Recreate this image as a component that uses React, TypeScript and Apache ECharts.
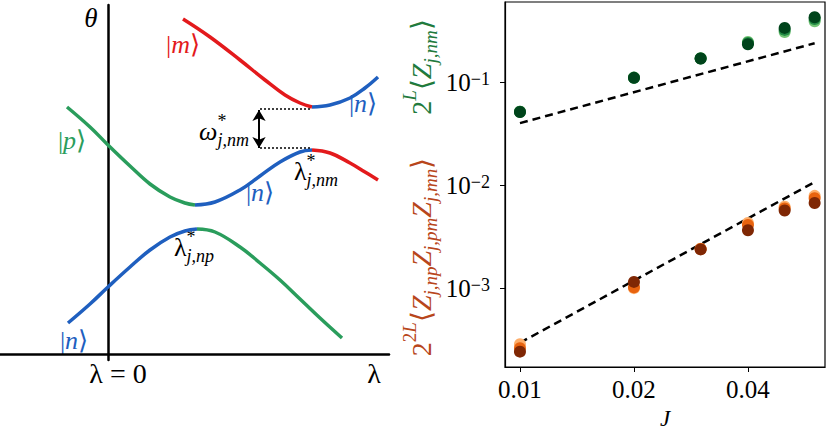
import React, { useEffect, useRef } from "react";
import * as echarts from "echarts";

// ---------- Right panel data ----------
const J = [0.01, 0.02, 0.03, 0.04, 0.05, 0.06];
const zNmLight = [0.052, 0.112, 0.172, 0.248, 0.31, 0.395];
const zNmMid = [0.052, 0.111, 0.171, 0.243, 0.325, 0.415];
const zNmDark = [0.0516, 0.111, 0.171, 0.236, 0.34, 0.431];
const zNmFit: [number, number][] = [[0.01, 0.0403], [0.06, 0.241]];
const triLight = [2.85e-4, 1.0e-3, 2.42e-3, 4.3e-3, 6.2e-3, 7.9e-3];
const triMid = [2.6e-4, 1.02e-3, 2.4e-3, 4.12e-3, 5.95e-3, 7.5e-3];
const triDark = [2.41e-4, 1.15e-3, 2.38e-3, 3.66e-3, 5.7e-3, 6.73e-3];
const triFit: [number, number][] = [[0.01, 2.94e-4], [0.06, 1.076e-2]];
const xTicks = [0.01, 0.02, 0.04];
const yTicks = [1e-3, 1e-2, 1e-1];

// ---------- Left panel (schematic, arbitrary units) ----------
const redTop: [number, number][] = [[75, 335], [102, 317], [132, 294], [157, 274], [177, 259], [192, 251], [204, 247]];
const blueTop: [number, number][] = [[204, 247], [222, 249], [242, 256], [257, 266], [270, 277]];
const greenMid: [number, number][] = [[-41, 247], [-18, 227], [0, 209], [22, 188], [42, 170], [62, 157], [77, 151], [87, 149]];
const blueMid: [number, number][] = [[87, 149], [107, 152], [132, 164], [152, 178], [172, 192], [192, 202], [204, 204]];
const redMid: [number, number][] = [[204, 204], [222, 201], [242, 191], [257, 182], [270, 174]];
const blueLow: [number, number][] = [[-40, 31], [-18, 50], [0, 67], [22, 87], [42, 104], [62, 117], [77, 123], [89, 125]];
const greenLow: [number, number][] = [[89, 125], [107, 122], [132, 107], [152, 91], [172, 74], [192, 55], [212, 36], [234, 16]];
const gapTop: [number, number][] = [[152, 245], [204, 245]];
const gapBottom: [number, number][] = [[152, 206], [204, 206]];
const gapArrow: [number, number][] = [[151, 244], [151, 206]];

const RED = "#e31a1c";
const BLUE = "#1f5fbf";
const GREEN = "#2a9d5c";
const FONT = "Liberation Serif";

let mctx: CanvasRenderingContext2D | null = null;
function measure(t: string, size: number, italic: boolean) {
  if (!mctx) mctx = document.createElement("canvas").getContext("2d");
  mctx!.font = `${italic ? "italic " : ""}${size}px "${FONT}"`;
  return mctx!.measureText(t).width;
}
type Atom = { t: string; it?: boolean; pos?: "sup" | "sub"; stack?: boolean };
function mathText(atoms: Atom[], cx: number, cy: number, F: number, color: string, rotation = 0) {
  const children: any[] = [];
  let x = 0;
  let lastStart = 0;
  atoms.forEach((a) => {
    const size = a.pos ? Math.round(F * 0.68) : F;
    const w = measure(a.t, size, !!a.it);
    const start = a.stack ? lastStart : x;
    const dy = a.pos === "sup" ? -0.4 * F : a.pos === "sub" ? 0.33 * F : 0;
    children.push({
      type: "text",
      x: start,
      y: dy,
      style: {
        text: a.t,
        fontSize: size,
        fontFamily: FONT,
        fontStyle: a.it ? "italic" : "normal",
        fill: color,
        align: "left",
        verticalAlign: "middle",
        textAlign: "left",
        textVerticalAlign: "middle",
      },
    });
    lastStart = start;
    x = Math.max(x, start + w);
  });
  const total = x;
  children.forEach((c) => (c.x -= total / 2));
  return { type: "group", x: cx, y: cy, rotation, children, silent: true };
}
const ket = (s: string): Atom[] => [{ t: "|" }, { t: s, it: true }, { t: "\u27E9" }];

export default function App() {
  const ref = useRef<HTMLDivElement>(null);
  useEffect(() => {
    document.body.style.margin = "0";
    const chart = echarts.init(ref.current!, undefined, { renderer: "svg" });
    const curve = (data: [number, number][], color: string) => ({
      type: "line",
      xAxisIndex: 0,
      yAxisIndex: 0,
      data,
      smooth: 0.4,
      showSymbol: false,
      symbol: "none",
      lineStyle: { color, width: 3.5, cap: "butt" },
      z: 3,
    });
    const dots = (vals: number[], color: string, z: number) => ({
      type: "scatter",
      xAxisIndex: 1,
      yAxisIndex: 1,
      data: J.map((j, i) => [j, vals[i]]),
      symbolSize: 12,
      itemStyle: { color, opacity: 1 },
      z,
    });
    const fit = (data: [number, number][]) => ({
      type: "line",
      xAxisIndex: 1,
      yAxisIndex: 1,
      data,
      symbol: "none",
      lineStyle: { color: "#000", width: 2.5, type: [8, 5] },
      z: 2,
    });
    const option: any = {
      animation: false,
      textStyle: { fontFamily: FONT },
      grid: [
        { left: 0, top: 5, width: 389, height: 355, outerBoundsMode: "none", containLabel: false },
        {
          left: 505, top: 2, width: 320, height: 365, show: true, borderColor: "#000", borderWidth: 1.2,
          outerBoundsMode: "none", containLabel: false,
        },
      ],
      xAxis: [
        {
          gridIndex: 0,
          type: "value",
          min: -108,
          max: 281,
          axisLine: { onZero: true, lineStyle: { color: "#000", width: 2.5 } },
          axisTick: { show: false },
          axisLabel: { show: false },
          splitLine: { show: false },
        },
        {
          gridIndex: 1,
          type: "log",
          logBase: 10,
          min: 0.00913,
          max: 0.0639,
          name: "J",
          nameLocation: "middle",
          nameGap: 24,
          nameTextStyle: { fontFamily: FONT, fontStyle: "italic", fontSize: 23, lineHeight: 23, color: "#000" },
          axisLine: { onZero: false, lineStyle: { color: "#000", width: 1.2 } },
          axisTick: { show: true, customValues: xTicks, length: 5, lineStyle: { color: "#000" } },
          minorTick: { show: false },
          axisLabel: {
            customValues: xTicks,
            formatter: (v: number) => v.toFixed(2),
            fontFamily: FONT,
            fontSize: 25,
            color: "#000",
            margin: 10,
          },
          splitLine: { show: false },
        },
      ],
      yAxis: [
        {
          gridIndex: 0,
          type: "value",
          min: -6,
          max: 349,
          axisLine: { onZero: true, lineStyle: { color: "#000", width: 2.5 } },
          axisTick: { show: false },
          axisLabel: { show: false },
          splitLine: { show: false },
        },
        {
          gridIndex: 1,
          type: "log",
          logBase: 10,
          min: 1.71e-4,
          max: 0.607,
          axisLine: { onZero: false, lineStyle: { color: "#000", width: 1.2 } },
          axisTick: { show: true, customValues: yTicks, length: 5, lineStyle: { color: "#000" } },
          minorTick: { show: false },
          axisLabel: {
            customValues: yTicks,
            formatter: (v: number) => `{a|10}{b|\u2212${-Math.round(Math.log10(v))}}`,
            margin: 15,
            rich: {
              a: { fontFamily: FONT, fontSize: 25, color: "#000", verticalAlign: "bottom" },
              b: { fontFamily: FONT, fontSize: 18, color: "#000", verticalAlign: "top" },
            },
          },
          splitLine: { show: false },
        },
      ],
      series: [
        curve(redTop, RED),
        curve(blueTop, BLUE),
        curve(greenMid, GREEN),
        curve(blueMid, BLUE),
        curve(redMid, RED),
        curve(blueLow, BLUE),
        curve(greenLow, GREEN),
        {
          type: "line",
          xAxisIndex: 0,
          yAxisIndex: 0,
          data: gapTop,
          symbol: "none",
          lineStyle: { color: "#000", width: 1.3, type: [2, 2] },
        },
        {
          type: "line",
          xAxisIndex: 0,
          yAxisIndex: 0,
          data: gapBottom,
          symbol: "none",
          lineStyle: { color: "#000", width: 1.3, type: [2, 2] },
          markLine: {
            silent: true,
            symbol: ["arrow", "arrow"],
            symbolSize: [10, 11],
            label: { show: false },
            lineStyle: { color: "#000", width: 2, type: "solid" },
            data: [[{ coord: gapArrow[0] }, { coord: gapArrow[1] }]],
          },
        },
        fit(zNmFit),
        fit(triFit),
        dots(zNmLight, "#74c476", 4),
        dots(zNmMid, "#238b45", 5),
        dots(zNmDark, "#00441b", 6),
        dots(triLight, "#fdae6b", 4),
        dots(triMid, "#e8630f", 5),
        dots(triDark, "#7f2704", 6),
      ],
      graphic: [
        mathText([{ t: "\u03B8", it: true }], 91, 18, 27, "#000"),
        mathText([{ t: "\u03BB" }, { t: " = " }, { t: "0" }], 118, 373, 28, "#000"),
        mathText([{ t: "\u03BB" }], 374, 373, 28, "#000"),
        mathText(ket("m"), 183, 44, 26, RED),
        mathText(ket("n"), 363, 103, 26, BLUE),
        mathText(ket("p"), 72, 140, 26, GREEN),
        mathText(ket("n"), 260, 192, 26, BLUE),
        mathText(ket("n"), 74, 340, 26, BLUE),
        mathText(
          [{ t: "\u03C9", it: true }, { t: "*", pos: "sup" }, { t: "j,nm", it: true, pos: "sub", stack: true }],
          224, 131, 26, "#000"
        ),
        mathText(
          [{ t: "\u03BB" }, { t: "*", pos: "sup" }, { t: "j,nm", it: true, pos: "sub", stack: true }],
          316, 171, 26, "#000"
        ),
        mathText(
          [{ t: "\u03BB" }, { t: "*", pos: "sup" }, { t: "j,np", it: true, pos: "sub", stack: true }],
          194, 247, 26, "#000"
        ),
        mathText(
          [
            { t: "2" },
            { t: "L", it: true, pos: "sup" },
            { t: "\u27E8" },
            { t: "Z", it: true },
            { t: "j,nm", it: true, pos: "sub" },
            { t: "\u27E9" },
          ],
          421, 67, 28, "#217a3c", Math.PI / 2
        ),
        mathText(
          [
            { t: "2" },
            { t: "2", pos: "sup" },
            { t: "L", it: true, pos: "sup" },
            { t: "\u27E8" },
            { t: "Z", it: true },
            { t: "j,np", it: true, pos: "sub" },
            { t: "Z", it: true },
            { t: "j,pm", it: true, pos: "sub" },
            { t: "Z", it: true },
            { t: "j,mn", it: true, pos: "sub" },
            { t: "\u27E9" },
          ],
          421, 257, 28, "#b8461b", Math.PI / 2
        ),
      ],
    };
    chart.setOption(option);
    return () => chart.dispose();
  }, []);
  return <div ref={ref} style={{ width: 830, height: 429 }} />;
}
